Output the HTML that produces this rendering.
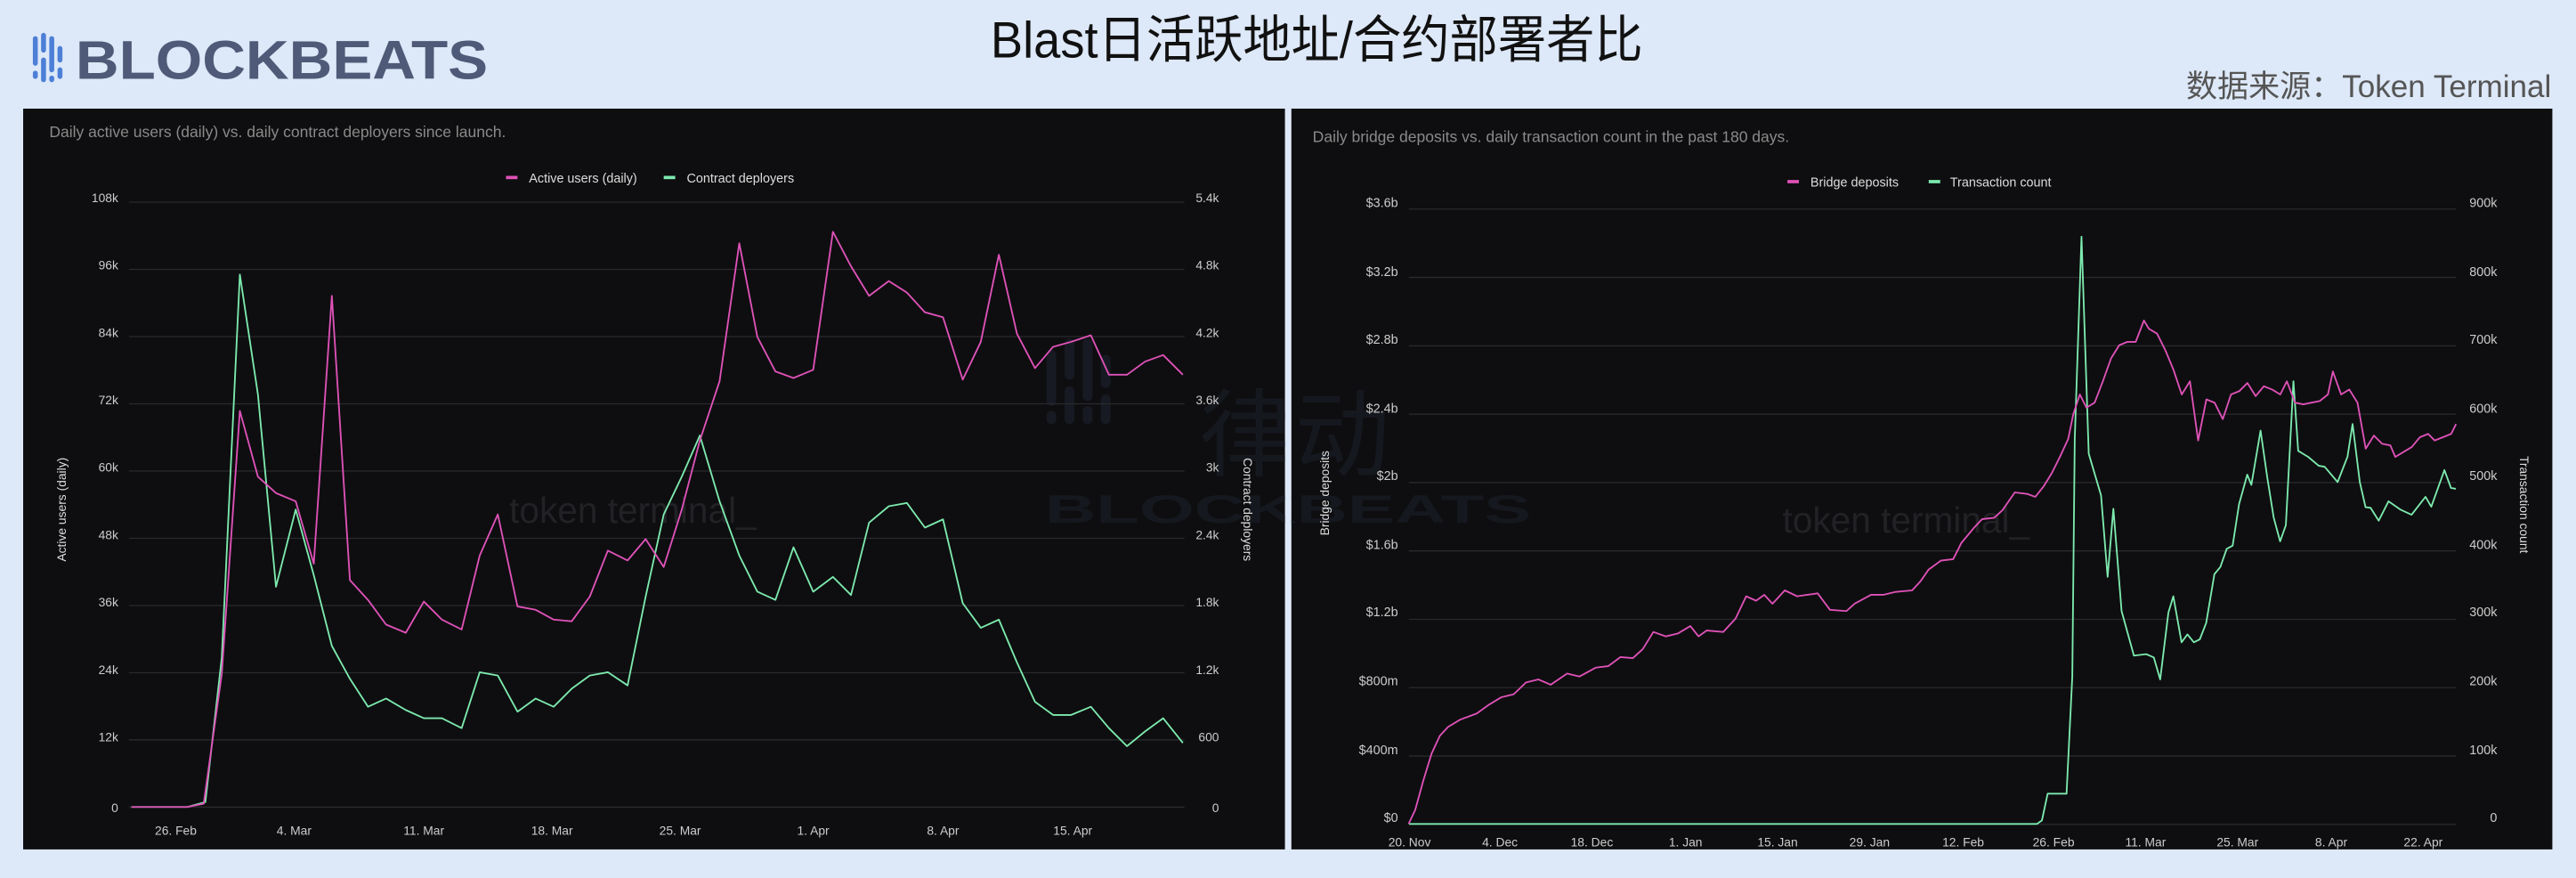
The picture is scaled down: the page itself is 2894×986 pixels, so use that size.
<!DOCTYPE html>
<html><head><meta charset="utf-8"><style>
html,body{margin:0;padding:0;background:#dde8f8;}
svg{display:block;}
text{font-family:"Liberation Sans","Noto Sans CJK SC",sans-serif;}
</style></head><body>
<svg width="2894" height="986" viewBox="0 0 1568 534.2" preserveAspectRatio="none" xmlns="http://www.w3.org/2000/svg">
<rect x="0" y="0" width="1568" height="534.2" fill="#dde8f8"/>
<!-- logo -->
<g fill="#4d7fd6">
<rect x="20" y="22" width="3" height="18" rx="1.5"/><rect x="20" y="43" width="3" height="5" rx="1.5"/>
<rect x="25" y="20" width="3" height="12" rx="1.5"/><rect x="25" y="35" width="3" height="15" rx="1.5"/>
<rect x="30" y="22" width="3" height="22" rx="1.5"/><rect x="30" y="46" width="3" height="4" rx="1.5"/>
<rect x="35" y="28" width="3" height="10" rx="1.5"/><rect x="35" y="41" width="3" height="7" rx="1.5"/>
</g>
<text x="46" y="48" font-size="33" font-weight="bold" fill="#4f5a78" textLength="251" lengthAdjust="spacingAndGlyphs">BLOCKBEATS</text>
<!-- title -->
<text x="603" y="35" font-size="31" fill="#111" textLength="397" lengthAdjust="spacingAndGlyphs">Blast日活跃地址/合约部署者比</text>
<text x="1553" y="59" font-size="19" fill="#555" text-anchor="end">数据来源：Token Terminal</text>

<!-- LEFT PANEL -->
<rect x="14.1" y="66.1" width="768.1" height="450.7" fill="#0e0e10"/>
<!-- RIGHT PANEL -->
<rect x="786" y="66.1" width="767.6" height="450.7" fill="#0e0e10"/>

<!-- watermarks -->
<text x="310" y="318" font-size="22" fill="#222226">token terminal_</text>
<text x="1085" y="324" font-size="22" fill="#222226">token terminal_</text>
<g fill="#171a22">
<rect x="637" y="213" width="6" height="34" rx="3"/><rect x="637" y="250" width="6" height="8" rx="3"/>
<rect x="648" y="206" width="6" height="25" rx="3"/><rect x="648" y="235" width="6" height="23" rx="3"/>
<rect x="659" y="206" width="6" height="38" rx="3"/><rect x="659" y="247" width="6" height="11" rx="3"/>
<rect x="670" y="216" width="6" height="20" rx="3"/><rect x="670" y="240" width="6" height="18" rx="3"/>
</g>
<text x="730" y="285" font-size="58" fill="#16181f">律动</text>
<text x="636" y="318" font-size="24" font-weight="bold" fill="#16181f" textLength="296" lengthAdjust="spacingAndGlyphs">BLOCKBEATS</text>
<rect x="782.2" y="66.1" width="3.8" height="450.7" fill="#dde8f8"/>

<text x="30" y="83.5" font-size="9.5" fill="#8a8a8a">Daily active users (daily) vs. daily contract deployers since launch.</text>
<rect x="308" y="107" width="7" height="2" fill="#df52b8"/>
<text x="322" y="111" font-size="7.8" fill="#ddd">Active users (daily)</text>
<rect x="404" y="107" width="7" height="2" fill="#7deaae"/>
<text x="418" y="111" font-size="7.8" fill="#ddd">Contract deployers</text>
<g stroke="#2a2a2d" stroke-width="0.7">
<line x1="78.5" x2="721" y1="123" y2="123"/><line x1="78.5" x2="721" y1="163.9" y2="163.9"/>
<line x1="78.5" x2="721" y1="204.8" y2="204.8"/><line x1="78.5" x2="721" y1="245.7" y2="245.7"/>
<line x1="78.5" x2="721" y1="286.6" y2="286.6"/><line x1="78.5" x2="721" y1="327.5" y2="327.5"/>
<line x1="78.5" x2="721" y1="368.4" y2="368.4"/><line x1="78.5" x2="721" y1="409.3" y2="409.3"/>
<line x1="78.5" x2="721" y1="450.2" y2="450.2"/><line x1="78.5" x2="721" y1="491.1" y2="491.1"/>
</g>
<g font-size="7.5" fill="#ccc" text-anchor="end">
<text x="72" y="123">108k</text><text x="72" y="164">96k</text><text x="72" y="205">84k</text><text x="72" y="246">72k</text><text x="72" y="287">60k</text><text x="72" y="328">48k</text><text x="72" y="369">36k</text><text x="72" y="410">24k</text><text x="72" y="451">12k</text><text x="72" y="494">0</text>
<text x="742" y="123">5.4k</text><text x="742" y="164">4.8k</text><text x="742" y="205">4.2k</text><text x="742" y="246">3.6k</text><text x="742" y="287">3k</text><text x="742" y="328">2.4k</text><text x="742" y="369">1.8k</text><text x="742" y="410">1.2k</text><text x="742" y="451">600</text><text x="742" y="494">0</text>
</g>
<g font-size="7.5" fill="#ccc" text-anchor="middle">
<text x="107" y="508">26. Feb</text><text x="179" y="508">4. Mar</text><text x="258" y="508">11. Mar</text><text x="336" y="508">18. Mar</text><text x="414" y="508">25. Mar</text><text x="495" y="508">1. Apr</text><text x="574" y="508">8. Apr</text><text x="653" y="508">15. Apr</text>
</g>
<text transform="translate(40,310) rotate(-90)" font-size="7.5" fill="#ddd" text-anchor="middle">Active users (daily)</text>
<text transform="translate(757,310) rotate(90)" font-size="7.5" fill="#ddd" text-anchor="middle">Contract deployers</text>
<polyline fill="none" stroke="#7deaae" stroke-width="1" stroke-linejoin="round" points="80,491 114,491 125,488 135,400 146,167 157,240 168,357 180,310 191,350 202,393 213,413 224,430 235,425 247,432 258,437 269,437 281,443 292,409 303,411 315,433 326,425 337,430 348,419 359,411 370,409 382,417 393,363 404,313 415,290 426,265 438,305 450,338 461,360 472,365 483,333 495,360 507,351 518,362 529,318 541,308 552,306 563,321 574,316 586,367 597,382 608,377 619,403 630,427 641,435 652,435 664,430 675,443 686,454 697,445 708,437 720,452"/>
<polyline fill="none" stroke="#df52b8" stroke-width="1" stroke-linejoin="round" points="80,491 114,491 124,489 135,410 146,250 157,290 168,300 180,305 191,343 202,180 213,353 224,365 235,380 247,385 258,366 269,377 281,383 292,338 303,313 315,369 326,371 337,377 348,378 359,363 370,335 382,341 393,328 404,345 415,310 426,268 438,232 450,148 461,205 472,226 483,230 495,225 507,141 518,162 529,180 541,171 552,178 563,190 574,193 586,231 597,208 608,155 619,203 630,224 641,211 652,208 664,204 675,228 686,228 697,220 708,216 720,228"/>

<text x="799" y="86.5" font-size="9.5" fill="#8a8a8a">Daily bridge deposits vs. daily transaction count in the past 180 days.</text>
<rect x="1088" y="109.5" width="7" height="2" fill="#df52b8"/>
<text x="1102" y="113.5" font-size="7.8" fill="#ddd">Bridge deposits</text>
<rect x="1174" y="109.5" width="7" height="2" fill="#7deaae"/>
<text x="1187" y="113.5" font-size="7.8" fill="#ddd">Transaction count</text>
<g stroke="#2a2a2d" stroke-width="0.7">
<line x1="857.6" x2="1495" y1="127.2" y2="127.2"/><line x1="857.6" x2="1495" y1="168.8" y2="168.8"/>
<line x1="857.6" x2="1495" y1="210.4" y2="210.4"/><line x1="857.6" x2="1495" y1="252" y2="252"/>
<line x1="857.6" x2="1495" y1="293.6" y2="293.6"/><line x1="857.6" x2="1495" y1="335.2" y2="335.2"/>
<line x1="857.6" x2="1495" y1="376.8" y2="376.8"/><line x1="857.6" x2="1495" y1="418.4" y2="418.4"/>
<line x1="857.6" x2="1495" y1="460" y2="460"/><line x1="857.6" x2="1495" y1="501.6" y2="501.6"/>
</g>
<g font-size="7.8" fill="#ccc" text-anchor="end">
<text x="851" y="126">$3.6b</text><text x="851" y="168">$3.2b</text><text x="851" y="209">$2.8b</text><text x="851" y="251">$2.4b</text><text x="851" y="292">$2b</text><text x="851" y="334">$1.6b</text><text x="851" y="375">$1.2b</text><text x="851" y="417">$800m</text><text x="851" y="459">$400m</text><text x="851" y="500">$0</text>
<text x="1520" y="126">900k</text><text x="1520" y="168">800k</text><text x="1520" y="209">700k</text><text x="1520" y="251">600k</text><text x="1520" y="292">500k</text><text x="1520" y="334">400k</text><text x="1520" y="375">300k</text><text x="1520" y="417">200k</text><text x="1520" y="459">100k</text><text x="1520" y="500">0</text>
</g>
<g font-size="7.5" fill="#ccc" text-anchor="middle">
<text x="858" y="515">20. Nov</text><text x="913" y="515">4. Dec</text><text x="969" y="515">18. Dec</text><text x="1026" y="515">1. Jan</text><text x="1082" y="515">15. Jan</text><text x="1138" y="515">29. Jan</text><text x="1195" y="515">12. Feb</text><text x="1250" y="515">26. Feb</text><text x="1306" y="515">11. Mar</text><text x="1362" y="515">25. Mar</text><text x="1419" y="515">8. Apr</text><text x="1475" y="515">22. Apr</text>
</g>
<text transform="translate(809,300) rotate(-90)" font-size="7.5" fill="#ddd" text-anchor="middle">Bridge deposits</text>
<text transform="translate(1534,307) rotate(90)" font-size="7.5" fill="#ddd" text-anchor="middle">Transaction count</text>
<polyline fill="none" stroke="#7deaae" stroke-width="1" stroke-linejoin="round" points="857.6,501.3 1239.9,501.3 1242.9,499.2 1246.4,482.9 1257.9,482.9 1261.4,411.6 1262.9,267 1267,144 1271.4,276 1278.9,301.4 1282.9,351 1286.4,309.5 1291.4,371.8 1298.9,398.9 1306.4,398 1311,400 1314.9,413.4 1319.9,372.7 1322.9,362.8 1327.9,390.8 1331.5,386 1335.4,390.8 1339,389 1342.9,379 1347.9,349.3 1351.5,345 1355.4,333.9 1359,332 1362.9,306.8 1367.9,288.8 1370.4,295 1376,262 1380,290 1384,315 1387.9,329.4 1391.4,319.5 1396,232 1398.9,274.3 1405,278 1411.4,283.4 1415,284 1422.9,293.3 1428.9,277.9 1432,258 1436.4,293.3 1439.9,308.6 1443,309 1447.9,316.8 1453.9,305 1461,310 1467.9,313.2 1476.4,302.3 1479.9,308.3 1487.9,286 1491.9,296.9 1494.9,297.4"/>
<polyline fill="none" stroke="#df52b8" stroke-width="1" stroke-linejoin="round" points="857.4,501.3 861.4,492.9 866.4,474.8 871.4,458.5 876.4,447.7 881.4,442.3 888.9,437.8 898.9,434.1 906.4,428.7 913.9,424.2 921.4,422.4 928.9,415.2 936.4,413.4 943.9,416.6 953.9,409.8 961.4,411.6 971.4,406.2 978.9,405.3 986.4,399.8 993.9,400.4 999.9,395 1006.4,384.5 1013.9,387.2 1021.4,385.4 1028.9,380.9 1033.9,387.2 1038.9,383.6 1048.9,384.5 1056.4,376.4 1062.9,362.8 1068.9,365.5 1073.9,361.9 1078.9,367.3 1086.4,359.2 1093.9,362.8 1106.4,361 1113.9,371 1123.9,371.8 1128.9,367.3 1138.9,361.9 1146.4,361.9 1153.9,360.1 1163.9,359.2 1168.9,353.8 1173.9,346.6 1181.4,341.1 1188.9,340.2 1193.9,330.3 1201.4,321.3 1206.4,315.9 1213.9,315 1218.9,310.4 1226.4,299.6 1233.9,300.5 1238.9,302.3 1243.9,296 1248.9,287.9 1253.9,277.9 1258.9,267.1 1262,252 1266,240 1270,248 1275,245 1280,232 1285,218 1290,210 1295,208 1300,208 1305,195 1308,200 1313,203 1318,213 1323,225 1328,240 1333,232 1338,268 1343,243 1348,245 1353,255 1358,240 1363,238 1368,233 1373,241 1378,235 1383,237 1388,240 1392,232 1397,245 1402,246 1407,245 1412,244 1417,240 1420,226 1425,240 1430,237 1435,245 1440,273 1445,265 1450,270 1455,271 1458,278 1463,275 1468,272 1473,266 1478,264 1482,268 1487,266 1492,264 1495,258"/>
</svg>
</body></html>
